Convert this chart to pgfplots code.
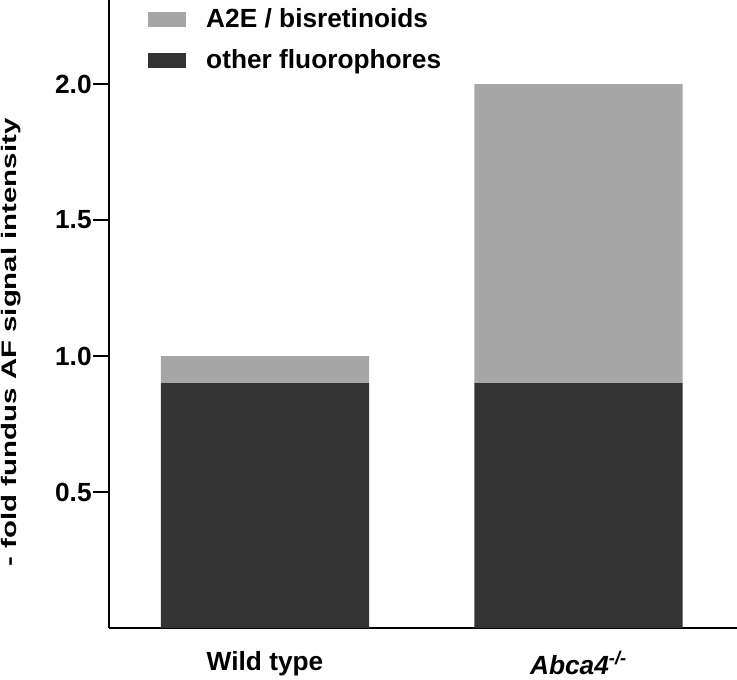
\documentclass[border=0pt]{standalone}
\usepackage{pgfplots}
\pgfplotsset{compat=1.18}
\usepackage{fontspec}
\setmainfont{Liberation Sans}
\definecolor{lightbar}{RGB}{166,166,166}
\definecolor{darkbar}{RGB}{51,51,51}
\newcommand{\chartfont}{\bfseries\fontsize{19.7}{23}\selectfont}
\newcommand{\labelfont}{\bfseries\fontsize{15.75}{19}\selectfont}
\begin{document}
\begin{tikzpicture}
\begin{axis}[
  scale only axis, width=471pt, height=471pt,
  ymin=0, ymax=2.309, xmin=-0.4976, xmax=1.5056,
  ybar stacked, bar width=0.664,
  axis x line*=bottom, axis y line*=left,
  axis line style={line width=2.2pt, -},
  every outer x axis line/.append style={line width=2.2pt, -},
  every outer y axis line/.append style={line width=2.2pt, -},
  every inner x axis line/.append style={line width=2.2pt, -},
  every inner y axis line/.append style={line width=2.2pt, -},
  xtick=\empty,
  extra x ticks={0,1},
  extra x tick labels={Wild type, \textit{Abca4}\textsuperscript{\textit{-/-}}},
  extra x tick style={major tick length=0pt, grid=none},
  ytick={0.5,1,1.5,2},
  ytick pos=left,
  every major tick/.append style={black, line width=1.6pt, xshift=-6pt},
  ytick align=center, major tick length=12pt,
  /pgf/number format/assume math mode=true,
  yticklabel style={/pgf/number format/fixed, /pgf/number format/fixed zerofill, /pgf/number format/precision=1, xshift=-3.5pt},
  tick label style={font=\chartfont},
  xticklabel style={yshift=-14pt},
  ylabel={\scalebox{1.4}[1]{- fold fundus AF signal intensity}},
  ylabel style={font=\labelfont, at={(rel axis cs:-0.1553,0.455)}, anchor=center},
  legend style={at={(rel axis cs:0.0557,0.995)}, anchor=north west, draw=none, fill=none,
     font=\chartfont, row sep=11pt, /tikz/every odd column/.append style={column sep=13pt}},
  legend cell align=left,
  legend image code/.code={\fill[#1] (0pt,-5.6pt) rectangle (28.5pt,5.6pt);},
  reverse legend,
]
\addplot[fill=darkbar, draw=none] coordinates {(0,0.9) (1,0.9)};
\addlegendentry{other fluorophores}
\addplot[fill=lightbar, draw=none] coordinates {(0,0.1) (1,1.1)};
\addlegendentry{A2E / bisretinoids}
\end{axis}
\pgfresetboundingbox
\useasboundingbox (current axis.south west) ++(-81.75pt,-38.25pt) rectangle (current axis.north east);
\end{tikzpicture}
\end{document}
